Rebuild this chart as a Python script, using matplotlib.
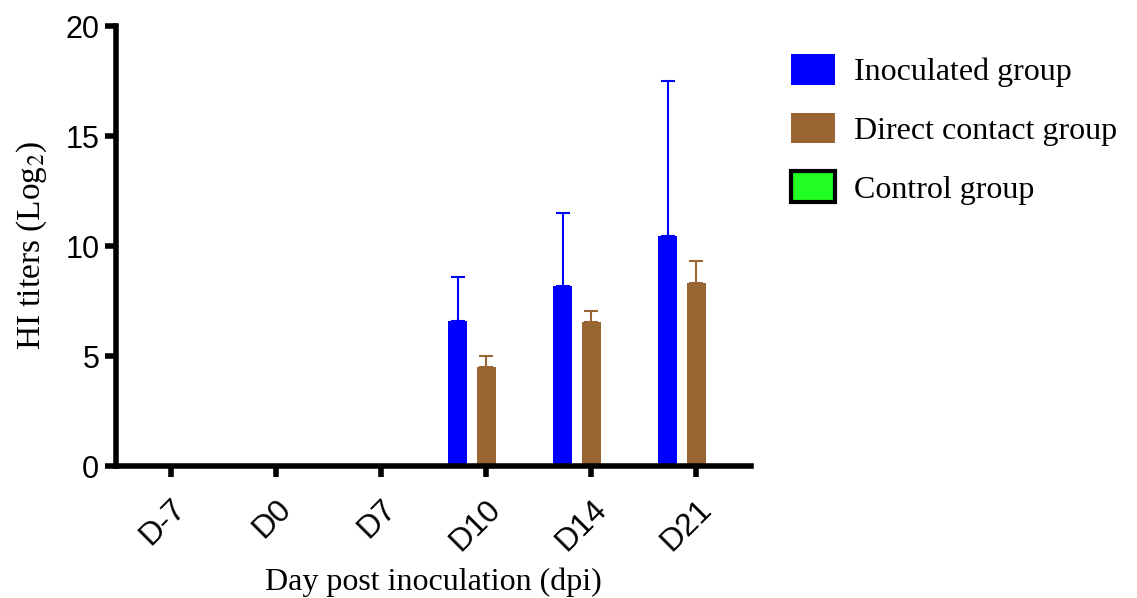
import matplotlib.pyplot as plt
import numpy as np
from matplotlib.patches import Patch

# Data
days = ["D-7", "D0", "D7", "D10", "D14", "D21"]
inoculated = [0, 0, 0, 6.6, 8.2, 10.45]
inoculated_err = [0, 0, 0, 2.0, 3.3, 7.05]
contact = [0, 0, 0, 4.5, 6.55, 8.3]
contact_err = [0, 0, 0, 0.5, 0.5, 1.0]
control = [0, 0, 0, 0, 0, 0]

blue = '#0000ff'
brown = '#996633'
green = '#22ff22'

fig = plt.figure(figsize=(11.37, 5.98), dpi=100)
ax = fig.add_axes([0.102, 0.2207, 0.5585, 0.7358])

x = np.arange(len(days))
w = 0.18
off = 0.27

ax.bar(x - off, inoculated, w, color=blue, yerr=[np.zeros(6), inoculated_err],
       error_kw=dict(ecolor=blue, elinewidth=1.5, capsize=5, capthick=1.5))
ax.bar(x, contact, w, color=brown, yerr=[np.zeros(6), contact_err],
       error_kw=dict(ecolor=brown, elinewidth=1.5, capsize=5, capthick=1.5))
ax.bar(x + off, control, w, color=green, edgecolor='black')

ax.set_xlim(-0.52, 5.52)
ax.set_ylim(0, 20)
ax.set_yticks([0, 5, 10, 15, 20])
ax.set_xticks(x)
ax.set_xticklabels(days, rotation=45, ha='right', rotation_mode='anchor')

for s in ['top', 'right']:
    ax.spines[s].set_visible(False)
for s in ['left', 'bottom']:
    ax.spines[s].set_linewidth(4)
ax.tick_params(width=4, length=8, labelsize=22, pad=4)
ax.tick_params(axis='x', labelsize=23, pad=12)
for lab in ax.get_xticklabels() + ax.get_yticklabels():
    lab.set_family('Liberation Sans')

ax.set_ylabel("HI titers (Log$_2$)", fontsize=24, family='Liberation Serif', labelpad=12)
ax.set_xlabel("Day post inoculation (dpi)", fontsize=23, family='Liberation Serif', labelpad=8)
ax.yaxis.label.set_math_fontfamily('stix')

handles = [Patch(facecolor=blue, label='Inoculated group'),
           Patch(facecolor=brown, label='Direct contact group'),
           Patch(facecolor=green, edgecolor='black', linewidth=3, label='Control group')]
fig.legend(handles=handles, loc='upper left', bbox_to_anchor=(0.67, 0.958),
           frameon=False, prop={'family': 'Liberation Serif', 'size': 23},
           handlelength=1.4, handleheight=1.1, labelspacing=0.8, handletextpad=0.6)

plt.savefig('out.png', dpi=100)
